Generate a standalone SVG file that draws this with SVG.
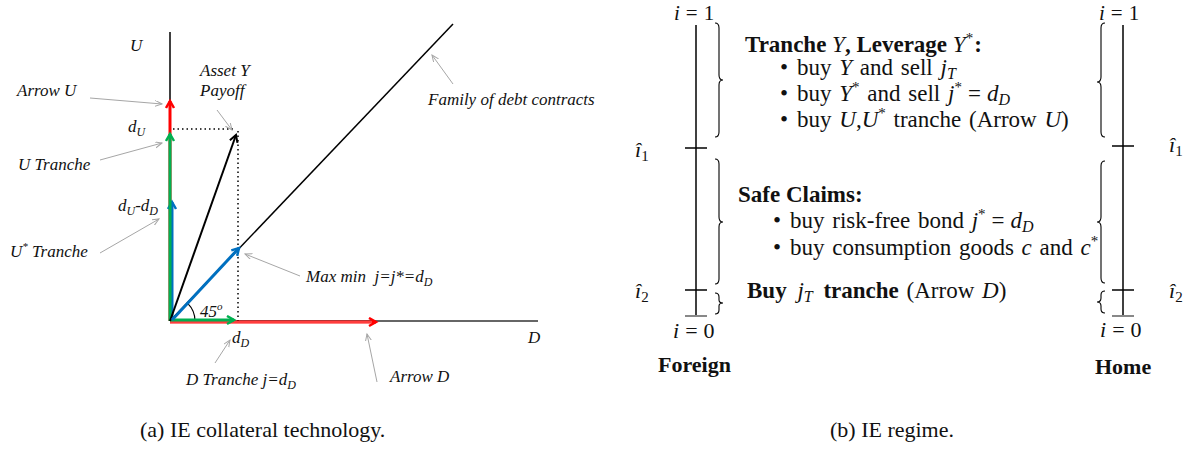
<svg xmlns="http://www.w3.org/2000/svg" width="1184" height="460" viewBox="0 0 1184 460">
<style>
text{font-family:"Liberation Serif","Times New Roman",serif;fill:#111}
.lab{font-size:17px;font-style:italic}
.tx{font-size:23px}
.mx{font-size:22px}
.top{font-size:21px}
.b{font-weight:bold}
.it{font-style:italic}
.cap{font-size:22px}
.ax{stroke:#000;stroke-width:1.5;fill:none}
.lead{stroke:#a6a6a6;stroke-width:1;fill:none;marker-end:url(#mg)}
.br{stroke:#000;stroke-width:1.1;fill:none}
.dot{stroke:#000;stroke-width:1.5;stroke-dasharray:1.5 3;fill:none}
</style>
<defs>
<marker id="mr" markerWidth="12" markerHeight="12" refX="8" refY="5" orient="auto" markerUnits="userSpaceOnUse"><path d="M1,1 L8,5 L1,9" fill="none" stroke="#ff0000" stroke-width="2.5"/></marker>
<marker id="mgr" markerWidth="12" markerHeight="12" refX="8" refY="5" orient="auto" markerUnits="userSpaceOnUse"><path d="M1,1 L8,5 L1,9" fill="none" stroke="#00b050" stroke-width="2.5"/></marker>
<marker id="mb" markerWidth="12" markerHeight="12" refX="8" refY="5" orient="auto" markerUnits="userSpaceOnUse"><path d="M1,1 L8,5 L1,9" fill="none" stroke="#0070c0" stroke-width="2.5"/></marker>
<marker id="mk" markerWidth="12" markerHeight="12" refX="8" refY="5" orient="auto" markerUnits="userSpaceOnUse"><path d="M1,1 L8,5 L1,9" fill="none" stroke="#000" stroke-width="2"/></marker>
<marker id="mg" markerWidth="9" markerHeight="8" refX="7" refY="3" orient="auto" markerUnits="userSpaceOnUse"><path d="M0,0 L7,3 L0,6" fill="none" stroke="#a6a6a6" stroke-width="1"/></marker>
</defs>
<rect width="1184" height="460" fill="#fff"/>

<!-- Panel (a) -->
<g id="axes">
<line class="ax" x1="170" y1="32" x2="170" y2="321"/>
<line x1="170" y1="321" x2="538" y2="321" stroke="#333" stroke-width="1.5"/>
<line class="ax" x1="170" y1="321" x2="453" y2="24"/>
<text class="lab" x="130" y="51">U</text>
<text class="lab" x="528" y="343">D</text>
</g>
<g id="guides">
<path class="dot" d="M173,129 H236"/>
<path class="dot" d="M238,131 V321"/>
<path d="M195,321 A25,25 0 0,0 187.7,303.3" fill="none" stroke="#000" stroke-width="1.2"/>
<text class="lab" x="200" y="317">45<tspan font-size="11" dy="-7">o</tspan></text>
</g>
<g id="connectors">
<line x1="170" y1="321" x2="170" y2="101" stroke="#ff0000" stroke-width="3" marker-end="url(#mr)"/>
<line x1="170" y1="322" x2="376" y2="322" stroke="#ff0000" stroke-width="3.2" marker-end="url(#mr)"/>
<line x1="170" y1="322" x2="372" y2="322" stroke="#ff9a9a" stroke-width="0.8"/>
<line x1="172" y1="321" x2="172" y2="202" stroke="#0070c0" stroke-width="3" marker-end="url(#mb)"/>
<line x1="170" y1="321" x2="170" y2="134" stroke="#00b050" stroke-width="3" marker-end="url(#mgr)"/>
<line x1="170" y1="320" x2="234" y2="320" stroke="#00b050" stroke-width="3" marker-end="url(#mgr)"/>
<line x1="170" y1="321" x2="236" y2="135" stroke="#000" stroke-width="2" marker-end="url(#mk)"/>
<line x1="172" y1="320" x2="239" y2="248" stroke="#0070c0" stroke-width="3" marker-end="url(#mb)"/>
<line class="lead" x1="90" y1="98" x2="162" y2="104"/>
<line class="lead" x1="100" y1="160" x2="162" y2="143"/>
<line class="lead" x1="217" y1="110" x2="232" y2="130"/>
<line class="lead" x1="100" y1="253" x2="159" y2="219"/>
<line class="lead" x1="300" y1="276" x2="245" y2="254"/>
<line class="lead" x1="215" y1="363" x2="230" y2="340"/>
<line class="lead" x1="377" y1="382" x2="367" y2="334"/>
<line class="lead" x1="453" y1="84" x2="432" y2="55"/>
</g>
<g id="labels-a">
<text class="lab" x="17" y="96">Arrow U</text>
<text class="lab" x="200" y="76">Asset Y</text>
<text class="lab" x="200" y="96">Payoff</text>
<text class="lab" x="128" y="132">d<tspan font-size="12" dy="4">U</tspan></text>
<text class="lab" x="18" y="170">U Tranche</text>
<text class="lab" x="118" y="211">d<tspan font-size="12" dy="4">U</tspan><tspan dy="-4">-d</tspan><tspan font-size="12" dy="4">D</tspan></text>
<text class="lab" x="10" y="257">U<tspan font-size="11" dy="-7">*</tspan><tspan dy="7"> Tranche</tspan></text>
<text class="lab" x="232" y="343">d<tspan font-size="12" dy="4">D</tspan></text>
<text class="lab" x="186" y="385">D Tranche j=d<tspan font-size="12" dy="4">D</tspan></text>
<text class="lab" x="306" y="282" xml:space="preserve">Max min  j=j*=d<tspan font-size="12" dy="4">D</tspan></text>
<text class="lab" x="390" y="382">Arrow D</text>
<text class="lab" x="428" y="105">Family of debt contracts</text>
</g>
<text class="cap" x="140" y="437">(a) IE collateral technology.</text>

<!-- Panel (b) -->
<g id="foreign">
<line class="ax" x1="696" y1="25" x2="696" y2="316" stroke-width="1.3"/>
<line class="ax" x1="685" y1="148" x2="707" y2="148" stroke-width="1.3"/>
<line class="ax" x1="685" y1="290" x2="707" y2="290" stroke-width="1.3"/>
<line x1="685" y1="316" x2="707" y2="316" stroke="#888" stroke-width="2"/>
<text class="top" x="674" y="20"><tspan class="it">i</tspan><tspan dx="6">=</tspan><tspan dx="6">1</tspan></text>
<text class="mx" x="673" y="338"><tspan class="it">i</tspan><tspan dx="6">=</tspan><tspan dx="6">0</tspan></text>
<text class="mx" x="635" y="157"><tspan class="it">î</tspan><tspan font-size="15" dy="4">1</tspan></text>
<text class="mx" x="635" y="298"><tspan class="it">î</tspan><tspan font-size="15" dy="4">2</tspan></text>
<text class="mx b" x="658" y="372">Foreign</text>
<path class="br" d="M715,23 Q719,23 719,28 V75 Q719,80 723,80 Q719,80 719,85 V132 Q719,137 715,137"/>
<path class="br" d="M715,159 Q719,159 719,164 V217 Q719,222 723,222 Q719,222 719,227 V279 Q719,284 715,284"/>
<path class="br" d="M715,293 Q719,293 719,297 V300 Q719,303 723,303 Q719,303 719,306 V310 Q719,314 715,314"/>
</g>
<g id="home">
<line class="ax" x1="1123" y1="25" x2="1123" y2="316" stroke-width="1.3"/>
<line class="ax" x1="1112" y1="146" x2="1134" y2="146" stroke-width="1.3"/>
<line class="ax" x1="1112" y1="290" x2="1134" y2="290" stroke-width="1.3"/>
<line x1="1112" y1="316" x2="1134" y2="316" stroke="#888" stroke-width="2"/>
<text class="top" x="1099" y="20"><tspan class="it">i</tspan><tspan dx="6">=</tspan><tspan dx="6">1</tspan></text>
<text class="mx" x="1100" y="337"><tspan class="it">i</tspan><tspan dx="6">=</tspan><tspan dx="6">0</tspan></text>
<text class="mx" x="1169" y="152"><tspan class="it">î</tspan><tspan font-size="15" dy="4">1</tspan></text>
<text class="mx" x="1169" y="298"><tspan class="it">î</tspan><tspan font-size="15" dy="4">2</tspan></text>
<text class="mx b" x="1095" y="374">Home</text>
<path class="br" d="M1105,23 Q1101,23 1101,28 V77 Q1101,82 1097,82 Q1101,82 1101,87 V132 Q1101,137 1105,137"/>
<path class="br" d="M1105,161 Q1101,161 1101,166 V217 Q1101,222 1097,222 Q1101,222 1101,227 V278 Q1101,283 1105,283"/>
<path class="br" d="M1105,291 Q1101,291 1101,295 V298 Q1101,302 1097,302 Q1101,302 1101,306 V309 Q1101,313 1105,313"/>
</g>
<g id="regime-text">
<text class="tx" x="745" y="52"><tspan class="b">Tranche </tspan><tspan class="it">Y</tspan><tspan class="b">, Leverage </tspan><tspan class="it">Y</tspan><tspan font-size="15" dy="-9">*</tspan><tspan class="b" dy="9" dx="1">:</tspan></text>
<text class="tx" x="780" y="75" word-spacing="2">•<tspan dx="9">buy </tspan><tspan class="it">Y</tspan> and sell <tspan class="it">j</tspan><tspan class="it" font-size="16" dy="4">T</tspan></text>
<text class="tx" x="780" y="101" word-spacing="2">•<tspan dx="9">buy </tspan><tspan class="it">Y</tspan><tspan font-size="15" dy="-9">*</tspan><tspan dy="9"> and sell </tspan><tspan class="it">j</tspan><tspan font-size="15" dy="-9">*</tspan><tspan dy="9" dx="6">=</tspan><tspan class="it" dx="6">d</tspan><tspan class="it" font-size="16" dy="4">D</tspan></text>
<text class="tx" x="780" y="127" word-spacing="2">•<tspan dx="9">buy </tspan><tspan class="it">U</tspan>,<tspan class="it">U</tspan><tspan font-size="15" dy="-9">*</tspan><tspan dy="9"> tranche (Arrow </tspan><tspan class="it">U</tspan>)</text>
<text class="tx b" x="738" y="202">Safe Claims:</text>
<text class="tx" x="773" y="228" word-spacing="2">•<tspan dx="9">buy risk-free bond </tspan><tspan class="it">j</tspan><tspan font-size="15" dy="-9">*</tspan><tspan dy="9" dx="6">=</tspan><tspan class="it" dx="6">d</tspan><tspan class="it" font-size="16" dy="4">D</tspan></text>
<text class="tx" x="773" y="255" word-spacing="2">•<tspan dx="9">buy consumption goods </tspan><tspan class="it">c</tspan> and <tspan class="it">c</tspan><tspan font-size="15" dy="-9">*</tspan></text>
<text class="tx" x="747" y="298" word-spacing="2"><tspan class="b">Buy </tspan><tspan class="it" dx="3">j</tspan><tspan class="it" font-size="16" dy="4">T</tspan><tspan class="b" dy="-4" dx="3"> tranche</tspan> (Arrow <tspan class="it">D</tspan>)</text>
</g>
<text class="cap" x="830" y="437">(b) IE regime.</text>
</svg>
